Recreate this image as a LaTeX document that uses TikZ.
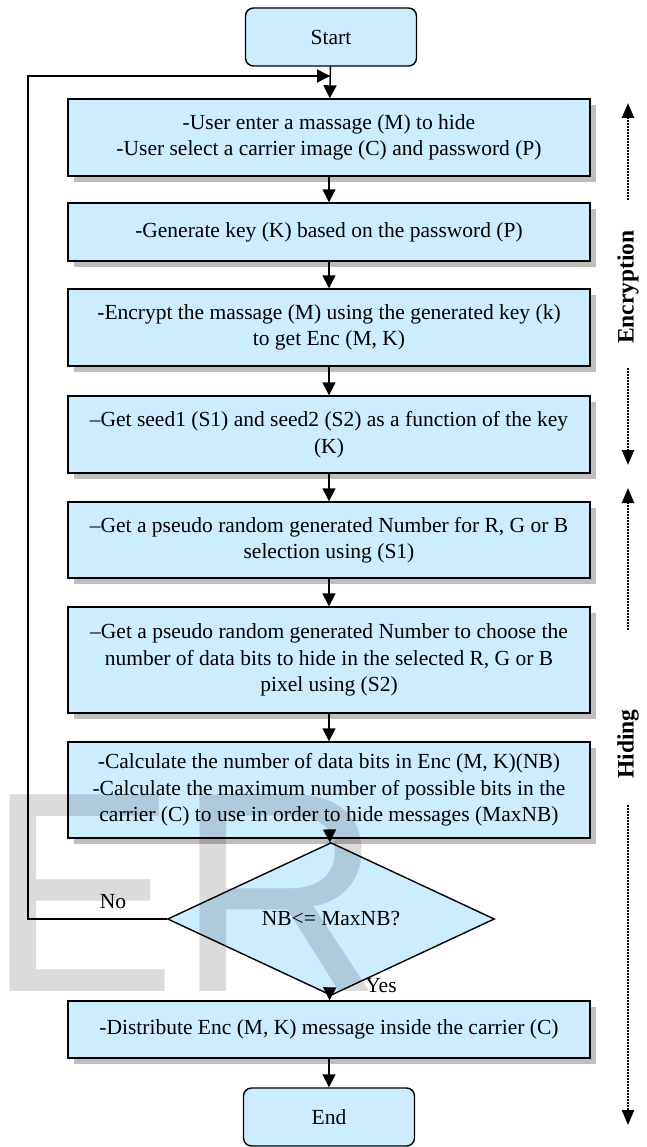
\documentclass[tikz,border=0pt]{standalone}
\usepackage{fontspec}
\setmainfont{Liberation Serif}
\newfontfamily\wmfont{Liberation Sans}
\usetikzlibrary{shapes.geometric,arrows.meta,shadows}
\definecolor{boxblue}{RGB}{204,236,255}
\definecolor{shadowgray}{RGB}{190,190,190}
\begin{document}
\begin{tikzpicture}[x=1pt,y=-1pt,
  every node/.style={font=\fontsize{21.5}{26.5}\selectfont, inner sep=0pt},
  procbox/.style={draw=black, line width=1.4pt, fill=boxblue, minimum width=522pt,
    align=center, drop shadow={shadow xshift=6pt, shadow yshift=-6pt, fill=shadowgray, opacity=1}},
  termbox/.style={draw=black, line width=1.4pt, fill=boxblue, rounded corners=8pt,
    minimum width=171pt, minimum height=58pt},
  decbox/.style={diamond, draw=black, line width=1.4pt, fill=boxblue,
    minimum width=327pt, minimum height=105pt},
  flow/.style={line width=1.5pt, -{Triangle[length=13pt,width=13pt]}},
  dotarrow/.style={line width=2.3pt, dash pattern=on 1.8pt off 1.2pt,
    -{Triangle[length=15pt,width=12pt]}},
  sidelabel/.style={font=\fontsize{23.5}{28}\selectfont\bfseries, rotate=90},
  plainlabel/.style={font=\fontsize{21.5}{26}\selectfont}
]
\useasboundingbox (0,0) rectangle (647,1147);

\node[termbox] (start) at (331,37) {Start};
\node[procbox, minimum height=77pt] (b1) at (329,137.5)
  {-User enter a massage (M) to hide\\-User select a carrier image (C) and password (P)};
\node[procbox, minimum height=58pt] (b2) at (329,232)
  {-Generate key (K) based on the password (P)};
\node[procbox, minimum height=77pt] (b3) at (329,327.5)
  {-Encrypt the massage (M) using the generated key (k)\\to get Enc (M, K)};
\node[procbox, minimum height=77pt] (b4) at (329,434.5)
  {–Get seed1 (S1) and seed2 (S2) as a function of the key\\(K)};
\node[procbox, minimum height=76pt] (b5) at (329,540)
  {–Get a pseudo random generated Number for R, G or B\\selection using (S1)};
\node[procbox, minimum height=106pt] (b6) at (329,660)
  {–Get a pseudo random generated Number to choose the\\number of data bits to hide in the selected R, G or B\\pixel using (S2)};
\node[procbox, minimum height=96pt] (b7) at (329,790)
  {-Calculate the number of data bits in Enc (M, K)(NB)\\-Calculate the maximum number of possible bits in the\\carrier (C) to use in order to hide messages (MaxNB)};
\node[decbox] (dec) at (331,919) {NB<= MaxNB?};
\node[procbox, minimum height=57pt] (b8) at (329,1029.5)
  {-Distribute Enc (M, K) message inside the carrier (C)};
\node[termbox] (finish) at (329,1117) {End};

\node[plainlabel] (nolabel) at (113,902) {No};
\node[plainlabel] (yeslabel) at (381,986) {Yes};

% main flow
\draw[flow] (start) -- (b1);
\draw[flow] (b1) -- (b2);
\draw[flow] (b2) -- (b3);
\draw[flow] (b3) -- (b4);
\draw[flow] (b4) -- (b5);
\draw[flow] (b5) -- (b6);
\draw[flow] (b6) -- (b7);
\draw[flow] (b7) -- (dec);
\draw[flow] (dec) -- (b8);
\draw[flow] (b8) -- (finish);

% loop back
\coordinate (loopleft) at (28,500);
\coordinate (loopin) at (330,76);
\draw[flow] (dec.west) -| (loopleft) |- (loopin);

% side labels
\node[sidelabel] (enc) at (628,287) {Encryption};
\coordinate (enctop) at (628,103);
\coordinate (encA) at (628,200);
\coordinate (encB) at (628,368);
\coordinate (encbot) at (628,465);
\draw[dotarrow] (encA) -- (enctop);
\draw[dotarrow] (encB) -- (encbot);

\node[sidelabel] (hid) at (628,744) {Hiding};
\coordinate (hidtop) at (628,488);
\coordinate (hidA) at (628,630);
\coordinate (hidB) at (628,805);
\coordinate (hidbot) at (628,1125);
\draw[dotarrow] (hidA) -- (hidtop);
\draw[dotarrow] (hidB) -- (hidbot);

% watermark
\node[anchor=base west, font=\fontsize{286}{286}\wmfont, text=black, text opacity=0.14] (watermark) at (-14,991) {ER};
\end{tikzpicture}
\end{document}
